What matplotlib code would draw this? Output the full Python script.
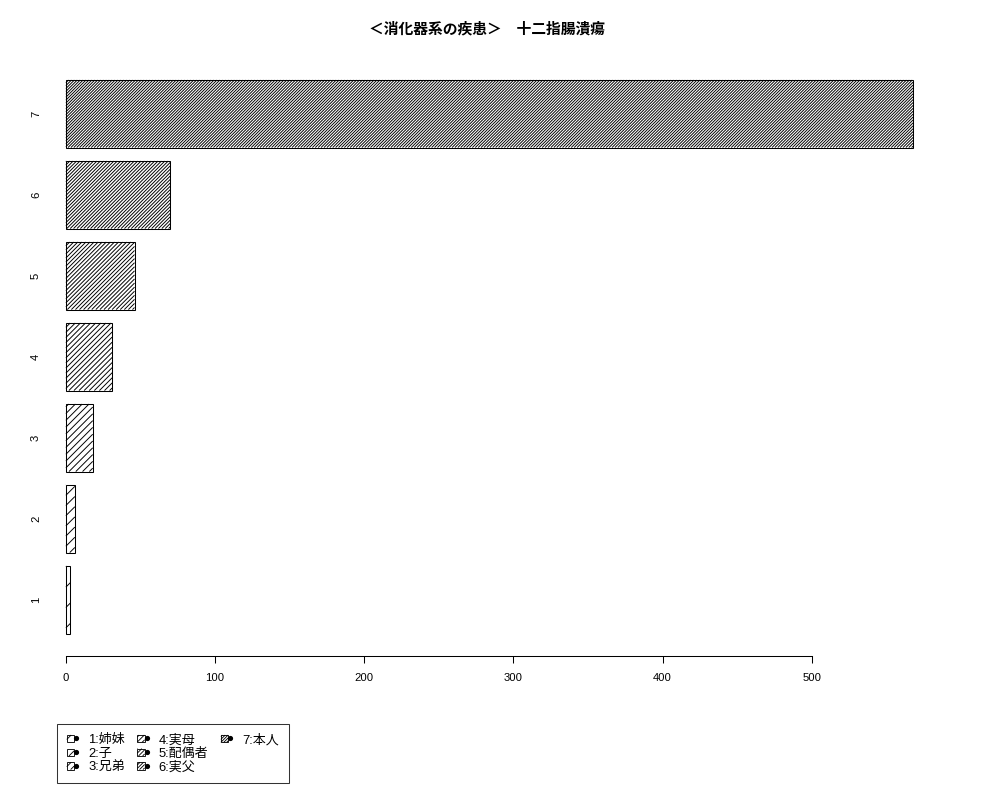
import numpy as np
import matplotlib
matplotlib.use('Agg')
import matplotlib.pyplot as plt
import matplotlib.patches as mpatches
import matplotlib.transforms as mtransforms
from matplotlib.collections import LineCollection
from matplotlib.legend_handler import HandlerBase
from matplotlib.lines import Line2D

plt.rcParams['font.family'] = ['Liberation Sans', 'Noto Sans CJK JP', 'DejaVu Sans']

title = '＜消化器系の疾患＞　十二指腸潰瘍'
names = ['1', '2', '3', '4', '5', '6', '7']
counts = [3, 6, 18, 31, 46, 70, 568]
legend_labels = ['1:姉妹', '2:子', '3:兄弟', '4:実母', '5:配偶者', '6:実父', '7:本人']
densities = [5, 10, 15, 20, 25, 30, 35]   # hatch lines per inch, like R's density=

DPI = 125


def hatch_segments(x0, y0, x1, y1, step):
    # 45 degree lines y = x + c, clipped to the box
    segs = []
    for c in np.arange(y0 - x1 + step / 2, y1 - x0, step):
        a = max(x0, y0 - c)
        b = min(x1, y1 - c)
        if b > a:
            segs.append([(a, a + c), (b, b + c)])
    return segs


def step_px(d):
    # R draws density at 72 px per inch; spacing along x for 45 deg lines
    return 72.0 * np.sqrt(2) / d


fig = plt.figure(figsize=(8, 6.4), dpi=DPI)
ax = fig.add_axes([0.032, 1 - 655.7 / 800, 0.915, 597.8 / 800])

ypos = 0.7 + 1.2 * np.arange(len(counts))
ax.set_xlim(-0.04 * 568, 568 * 1.04)
ax.set_ylim(0.2 - 0.328, 8.4 + 0.328)

bars = ax.barh(ypos, counts, height=1.0, left=0, color='white',
               edgecolor='black', linewidth=0.6, zorder=2)

inv = ax.transData.inverted()
for y, v, d in zip(ypos, counts, densities):
    (px0, py0), (px1, py1) = ax.transData.transform([(0, y - 0.5), (v, y + 0.5)])
    segs = hatch_segments(px0, py0, px1, py1, step_px(d))
    segs = [inv.transform(s) for s in segs]
    ax.add_collection(LineCollection(segs, colors='black', linewidths=0.55, zorder=2.5))

for s in ['left', 'right', 'top']:
    ax.spines[s].set_visible(False)
ax.spines['bottom'].set_bounds(0, 500)
ax.spines['bottom'].set_linewidth(0.6)
ax.set_xticks([0, 100, 200, 300, 400, 500])
ax.tick_params(axis='x', length=4, width=0.6, pad=6, labelsize=6.5)
ax.set_yticks([])

trans = mtransforms.blended_transform_factory(fig.transFigure, ax.transData)
for y, n in zip(ypos, names):
    ax.text(36 / 1000, y, n, transform=trans, rotation=90,
            ha='center', va='center', fontsize=6.5)

fig.text(487 / 1000, 1 - 29 / 800, title, ha='center', va='center',
         fontsize=8.5, fontweight='bold')


class HatchKey(HandlerBase):
    def __init__(self, density):
        super().__init__()
        self.density = density

    def create_artists(self, legend, orig_handle, xdescent, ydescent,
                       width, height, fontsize, trans):
        side = 4.2  # points
        x0 = -xdescent
        y0 = -ydescent + (height - side) / 2
        rect = mpatches.Rectangle((x0, y0), side, side, facecolor='white',
                                  edgecolor='black', linewidth=0.5, transform=trans)
        step = step_px(self.density) * 72.0 / DPI
        segs = hatch_segments(x0, y0, x0 + side, y0 + side, step)
        lc = LineCollection(segs, colors='black', linewidths=0.5, transform=trans)
        dot = Line2D([x0 + side + 1.3], [y0 + side * 0.55], marker='o', markersize=2.0,
                     color='black', linestyle='none', transform=trans)
        return [rect, lc, dot]


handles = [mpatches.Patch(facecolor='white', edgecolor='black') for _ in densities]
hmap = {h: HatchKey(d) for h, d in zip(handles, densities)}
labels = list(legend_labels)
# pad to 9 entries so columns fill 3/3/1 like the original
blank = mpatches.Patch(facecolor='none', edgecolor='none')
handles += [blank, blank]
labels += ['', '']
leg = fig.legend(handles, labels, ncol=3, loc='upper left', handler_map=hmap,
                 bbox_to_anchor=(57 / 1000, 1 - 724 / 800), fontsize=7.5,
                 frameon=True, fancybox=False, handlelength=0.75, handleheight=0.75,
                 handletextpad=0.9, columnspacing=0.95, labelspacing=0.1,
                 borderpad=0.75, borderaxespad=0)
leg.get_frame().set_edgecolor('black')
leg.get_frame().set_linewidth(0.6)

fig.savefig('out.png', dpi=DPI)
plt.close(fig)
